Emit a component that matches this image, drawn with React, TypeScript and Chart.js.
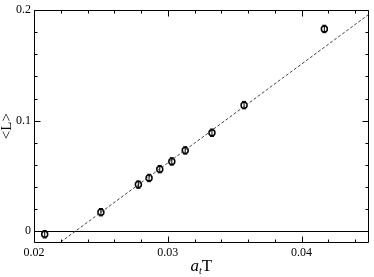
import React, { useEffect, useRef } from "react";
import { Chart, registerables } from "chart.js";

Chart.register(...registerables);

// ---- data ----
const tempX = [0.0208, 0.025, 0.0278, 0.0286, 0.0294, 0.0303, 0.0313, 0.0333, 0.0357, 0.0417];
const polyakov = [-0.003, 0.017, 0.042, 0.048, 0.056, 0.063, 0.073, 0.089, 0.114, 0.183];
const polyakovErr = [0.002, 0.002, 0.002, 0.002, 0.002, 0.002, 0.002, 0.002, 0.002, 0.002];
const fitX = [0.022, 0.045];
const fitY = [-0.01, 0.196];

const xMajorTicks = [0.02, 0.03, 0.04];
const xMinorTicks = [0.022, 0.024, 0.026, 0.028, 0.032, 0.034, 0.036, 0.038, 0.042, 0.044];
const yMajorTicks = [0, 0.1, 0.2];
const yMinorTicks = [0.02, 0.04, 0.06, 0.08, 0.12, 0.14, 0.16, 0.18];
const xTickLabels = ["0.02", "0.03", "0.04"];
const yTickLabels = ["0", "0.1", "0.2"];

const SERIF = '"Liberation Serif", "DejaVu Serif", serif';

const decorPlugin = {
  id: "decor",
  beforeDatasetsDraw(chart: any) {
    const { ctx, chartArea, scales } = chart;
    const py = Math.round(scales.y.getPixelForValue(0)) + 0.5;
    ctx.save();
    ctx.strokeStyle = "#000";
    ctx.lineWidth = 1.2;
    ctx.beginPath();
    ctx.moveTo(chartArea.left, py);
    ctx.lineTo(chartArea.right, py);
    ctx.stroke();
    ctx.restore();
  },
  afterDatasetsDraw(chart: any) {
    const { ctx, scales } = chart;
    ctx.save();
    ctx.strokeStyle = "#000";
    ctx.lineWidth = 1;
    for (let i = 0; i < tempX.length; i++) {
      const px = scales.x.getPixelForValue(tempX[i]);
      const y1 = scales.y.getPixelForValue(polyakov[i] - polyakovErr[i]);
      const y2 = scales.y.getPixelForValue(polyakov[i] + polyakovErr[i]);
      ctx.beginPath();
      ctx.moveTo(px, y1 + 1.5);
      ctx.lineTo(px, y2 - 1.5);
      ctx.moveTo(px - 2, y1 + 1.5);
      ctx.lineTo(px + 2, y1 + 1.5);
      ctx.moveTo(px - 2, y2 - 1.5);
      ctx.lineTo(px + 2, y2 - 1.5);
      ctx.stroke();
    }
    ctx.restore();
  },
  afterDraw(chart: any) {
    const { ctx, chartArea, scales } = chart;
    const { left, right, top, bottom } = chartArea;
    ctx.save();
    ctx.strokeStyle = "#000";
    ctx.lineWidth = 1;
    const L = Math.round(left) + 0.5;
    const R = Math.round(right) - 0.5;
    const T = Math.round(top) + 0.5;
    const B = Math.round(bottom) + 0.5;
    ctx.beginPath();
    ctx.rect(L, T, R - L, B - T);
    ctx.stroke();
    ctx.beginPath();
    const xt = (v: number, len: number) => {
      const px = Math.round(scales.x.getPixelForValue(v)) + 0.5;
      ctx.moveTo(px, B);
      ctx.lineTo(px, B - len);
      ctx.moveTo(px, T);
      ctx.lineTo(px, T + len);
    };
    const yt = (v: number, len: number) => {
      const py = Math.round(scales.y.getPixelForValue(v)) + 0.5;
      ctx.moveTo(L, py);
      ctx.lineTo(L + len, py);
      ctx.moveTo(R, py);
      ctx.lineTo(R - len, py);
    };
    xMajorTicks.forEach((v) => xt(v, 6));
    xMinorTicks.forEach((v) => xt(v, 3));
    yMajorTicks.forEach((v) => yt(v, 6));
    yMinorTicks.forEach((v) => yt(v, 3));
    ctx.stroke();

    // y axis title
    ctx.fillStyle = "#000";
    ctx.save();
    ctx.translate(7, (top + bottom) / 2);
    ctx.rotate(-Math.PI / 2);
    ctx.font = `15px ${SERIF}`;
    ctx.textAlign = "center";
    ctx.textBaseline = "middle";
    ctx.fillText("<L>", 0, 0);
    ctx.restore();

    // x axis title: a_t T
    const fa = `italic 17px ${SERIF}`;
    const ft = `italic 10px ${SERIF}`;
    const fT = `17px ${SERIF}`;
    ctx.font = fa;
    const wa = ctx.measureText("a").width;
    ctx.font = ft;
    const wt = ctx.measureText("t").width;
    ctx.font = fT;
    const wT = ctx.measureText("T").width;
    const total = wa + wt + wT;
    let x0 = (left + right) / 2 - total / 2;
    const base = 271;
    ctx.textAlign = "left";
    ctx.textBaseline = "alphabetic";
    ctx.font = fa;
    ctx.fillText("a", x0, base);
    x0 += wa;
    ctx.font = ft;
    ctx.fillText("t", x0, base + 3);
    x0 += wt;
    ctx.font = fT;
    ctx.fillText("T", x0, base);
    ctx.restore();
  },
};

export default function App() {
  const ref = useRef<HTMLCanvasElement | null>(null);
  useEffect(() => {
    document.body.style.margin = "0";
    const canvas = ref.current;
    if (!canvas) return;
    const chart = new Chart(canvas, {
      type: "scatter",
      data: {
        datasets: [
          {
            label: "fit",
            data: fitX.map((x, i) => ({ x, y: fitY[i] })),
            showLine: true,
            borderColor: "#444",
            borderWidth: 1,
            borderDash: [3, 2],
            pointRadius: 0,
            fill: false,
          },
          {
            label: "<L>",
            data: tempX.map((x, i) => ({ x, y: polyakov[i] })),
            showLine: false,
            pointStyle: "circle",
            pointRadius: 3,
            borderColor: "#000",
            backgroundColor: "rgba(0,0,0,0)",
            pointBorderWidth: 1.5,
          },
        ],
      },
      options: {
        animation: false,
        responsive: false,
        maintainAspectRatio: false,
        devicePixelRatio: 1,
        layout: { padding: { top: 5, right: 2, left: 0, bottom: 0 } },
        plugins: { legend: { display: false }, tooltip: { enabled: false } },
        scales: {
          x: {
            type: "linear",
            min: 0.02,
            max: 0.045,
            grid: { display: false, drawTicks: false },
            border: { display: false },
            afterBuildTicks: (s: any) => {
              s.ticks = xMajorTicks.map((v) => ({ value: v }));
            },
            afterFit: (s: any) => {
              s.height = 35;
            },
            ticks: {
              autoSkip: false,
              maxRotation: 0,
              padding: 4,
              color: "#000",
              font: { family: SERIF, size: 12 },
              callback: (v: any) => {
                const i = xMajorTicks.findIndex((t) => Math.abs(t - v) < 1e-9);
                return i >= 0 ? xTickLabels[i] : "";
              },
            },
          },
          y: {
            type: "linear",
            min: -0.01,
            max: 0.2,
            grid: { display: false, drawTicks: false },
            border: { display: false },
            afterBuildTicks: (s: any) => {
              s.ticks = yMajorTicks.map((v) => ({ value: v }));
            },
            afterFit: (s: any) => {
              s.width = 34;
            },
            ticks: {
              autoSkip: false,
              padding: 3,
              color: "#000",
              font: { family: SERIF, size: 12 },
              callback: (v: any) => {
                const i = yMajorTicks.findIndex((t) => Math.abs(t - v) < 1e-9);
                return i >= 0 ? yTickLabels[i] : "";
              },
            },
          },
        },
      },
      plugins: [decorPlugin],
    } as any);
    return () => chart.destroy();
  }, []);
  return (
    <div style={{ width: 374, height: 277 }}>
      <canvas ref={ref} width={374} height={277} style={{ display: "block" }} />
    </div>
  );
}
